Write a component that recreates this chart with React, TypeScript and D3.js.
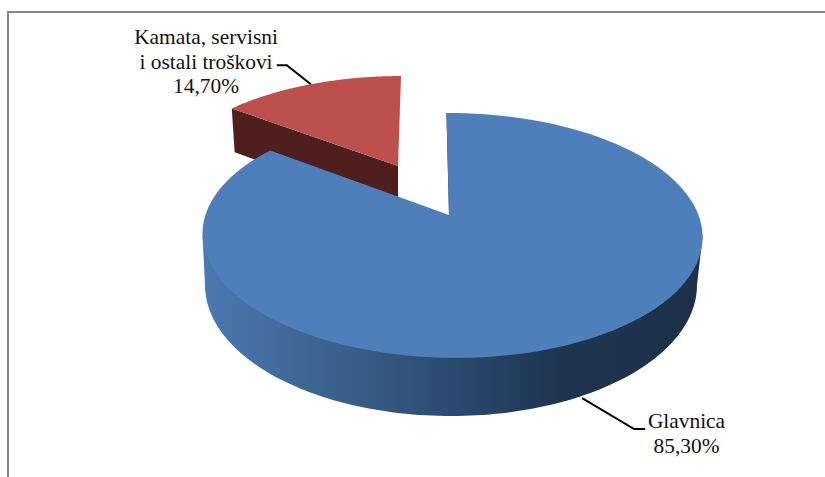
import React from 'react';
import * as d3 from 'd3';

const labels = ['Glavnica', 'Kamata, servisni i ostali troškovi'];
const labelLines = [['Glavnica', '85,30%'], ['Kamata, servisni', 'i ostali troškovi', '14,70%']];
const values = [85.3, 14.7];

const width = 825;
const height = 477;

interface Face { cx: number; cy: number; rx: number; ry: number; k: number; m: number; skew: number }

// perspective pie planes, the angle is clockwise from 12 o'clock
const blueTop: Face = { cx: 449, cy: 215, rx: 246.5, ry: 119, k: 0.167, m: 0.012, skew: 3 };
const blueBottom: Face = { cx: 451, cy: 285, rx: 246, ry: 131, k: 0, m: 0, skew: 0 };
const redTop: Face = { cx: 398, cy: 166, rx: 232, ry: 105, k: 0.167, m: 0, skew: -3.5 };
const redBottom: Face = { cx: 398, cy: 212, rx: 228, ry: 109, k: 0.167, m: 0, skew: -3.5 };
const blueDepth = 57;

const project = (f: Face, a: number, r = 1): [number, number] => {
  const u = Math.sin(a) * r;
  const v = -Math.cos(a) * r;
  const w = 1 - f.k * v - f.m * u;
  return [f.cx + (f.rx * u + f.skew * v) / w, f.cy + (f.ry * v) / w];
};

const arcPoints = (f: Face, a0: number, a1: number, r = 1) =>
  d3.range(0, 121).map(i => project(f, a0 + ((a1 - a0) * i) / 120, r));

const line = d3.line();
const deg = (d: number) => (d * Math.PI) / 180;

const App: React.FC = () => {
  const arcs = d3.pie<number>().sort(null)(values);
  const [blue, red] = arcs;

  const blueFace = line([[blueTop.cx, blueTop.cy], ...arcPoints(blueTop, blue.startAngle, blue.endAngle)]) + 'Z';
  // rim silhouette: the top plane is widest just in front of its middle,
  // and the inner arc runs under the face so no seam shows along the edge
  const blueSide = line([
    project(blueTop, deg(99.6)),
    ...arcPoints(blueTop, deg(99.6), deg(260.4), 0.97),
    project(blueTop, deg(260.4)),
    ...arcPoints(blueBottom, deg(90), deg(270)).reverse(),
  ]) + 'Z';
  const blueStart = project(blueTop, blue.startAngle);
  const blueEdge = line([
    blueStart,
    [blueTop.cx, blueTop.cy],
    [blueTop.cx + 1.6, blueTop.cy],
    [blueStart[0] + 1.2, blueStart[1]],
  ]) + 'Z';

  const redFace = line([[redTop.cx, redTop.cy], ...arcPoints(redTop, red.startAngle, red.endAngle)]) + 'Z';
  const redSide = line([
    [redTop.cx, redTop.cy],
    project(redTop, red.startAngle),
    project(redBottom, red.startAngle),
    [redBottom.cx, redBottom.cy],
  ]) + 'Z';

  const blueMid = project(blueTop, (blue.startAngle + blue.endAngle) / 2);
  const bluePt: [number, number] = [blueMid[0], blueMid[1] + blueDepth];
  const redPt = project(redTop, (red.startAngle + red.endAngle) / 2);

  return (
    <svg width={width} height={height} style={{ position: 'absolute', left: 0, top: 0, background: '#fff' }}>
      <defs>
        <linearGradient id="side" gradientUnits="userSpaceOnUse" x1={202} x2={702} y1={0} y2={0}>
          <stop offset="0" stopColor="#4b79b1" />
          <stop offset="0.2" stopColor="#3f6795" />
          <stop offset="0.5" stopColor="#2c4a70" />
          <stop offset="0.72" stopColor="#1e3450" />
          <stop offset="1" stopColor="#1d3047" />
        </linearGradient>
      </defs>

      <path d="M8,477V12H825" fill="none" stroke="#868686" strokeWidth={2} />

      <path d={redSide} fill="#4f1f1d" />
      <path d={redFace} fill="#bd4f4c" />
      <path d={blueSide} fill="url(#side)" />
      <path d={blueEdge} fill="#1f3550" />
      <path d={blueFace} fill="#4e7fbb" />

      <path d={line([redPt, [redPt[0] - 24, redPt[1] - 19], [redPt[0] - 34, redPt[1] - 19]]) ?? ''} fill="none" stroke="#000" strokeWidth={2} />
      <path d={line([bluePt, [bluePt[0] + 52, bluePt[1] + 31], [bluePt[0] + 63, bluePt[1] + 31]]) ?? ''} fill="none" stroke="#000" strokeWidth={2} />

      <g fontFamily="'Liberation Serif'" fontSize={21.4} fill="#111" textAnchor="middle">
        <text aria-label={labels[1]}>
          {labelLines[1].map((t, i) => (
            <tspan key={t} x={206} y={44 + i * 24.5}>{t}</tspan>
          ))}
        </text>
        <text aria-label={labels[0]}>
          {labelLines[0].map((t, i) => (
            <tspan key={t} x={686.5} y={428 + i * 25}>{t}</tspan>
          ))}
        </text>
      </g>
    </svg>
  );
};

export default App;
